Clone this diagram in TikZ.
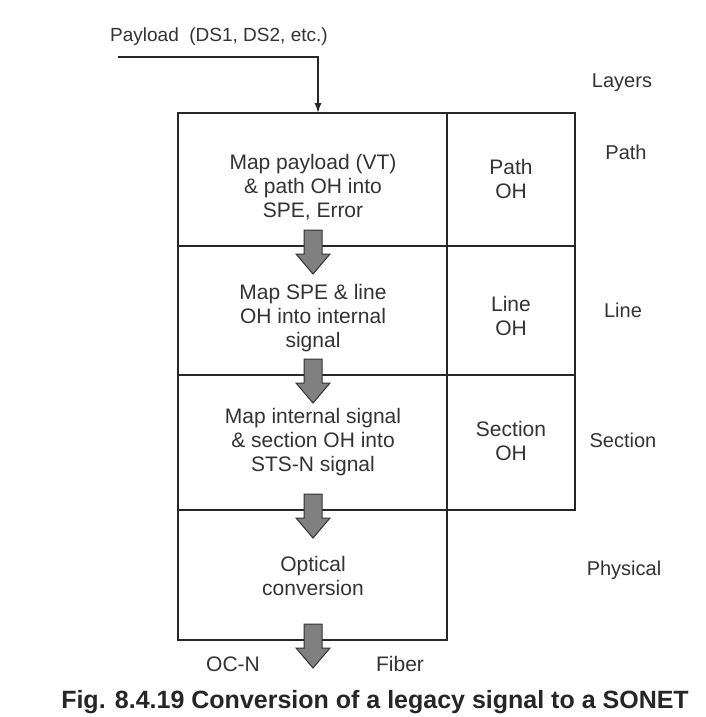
\documentclass[tikz,border=0pt]{standalone}
\usepackage{fontspec}
\setmainfont{Liberation Sans}
\usetikzlibrary{arrows.meta}
\tikzset{
  cell/.style={draw=black!85, line width=2pt, inner sep=0pt},
  celltext/.style={align=center, font=\fontsize{21}{24}\selectfont, text=black!80, inner sep=0pt},
  layer/.style={font=\fontsize{20}{24}\selectfont, text=black!80, inner sep=0pt},
  arrowfill/.style={fill=black!50, draw=black!80, line width=1pt, line join=miter},
  blockarrow/.pic={\path[arrowfill] (-9,-16) -- (9,-16) -- (9,8) -- (17,8) -- (0,28) -- (-17,8) -- (-9,8) -- cycle;},
}
\begin{document}
\begin{tikzpicture}[x=1pt,y=-1pt]
\useasboundingbox (0,0) rectangle (706,717);
\fill[white] (0,0) rectangle (706,717);
% cells
\node[cell, minimum width=269pt, minimum height=133pt] (c1) at (312.5,179.5) {};
\node[cell, minimum width=128pt, minimum height=133pt] (p1) at (511,179.5) {};
\node[cell, minimum width=269pt, minimum height=129pt] (c2) at (312.5,310.5) {};
\node[cell, minimum width=128pt, minimum height=129pt] (p2) at (511,310.5) {};
\node[cell, minimum width=269pt, minimum height=135pt] (c3) at (312.5,442.5) {};
\node[cell, minimum width=128pt, minimum height=135pt] (p3) at (511,442.5) {};
\node[cell, minimum width=269pt, minimum height=130pt] (c4) at (312.5,575) {};
% cell texts
\node[celltext] (t1) at (313,187) {Map payload (VT)\\ \& path OH into\\ SPE, Error};
\node[celltext] (o1) at (511,179) {Path\\ OH};
\node[celltext] (t2) at (313,318) {Map SPE \& line\\ OH into internal\\ signal};
\node[celltext] (o2) at (511,316) {Line\\ OH};
\node[celltext] (t3) at (313,442) {Map internal signal\\ \& section OH into\\ STS-N signal};
\node[celltext] (o3) at (511,441) {Section\\ OH};
\node[celltext] (t4) at (313,576) {Optical\\ conversion};
% block arrows
\pic at (313,246) {blockarrow};
\pic at (313,375) {blockarrow};
\pic at (313,510) {blockarrow};
\pic at (313,640) {blockarrow};
% payload input
\node[layer, anchor=west, font=\fontsize{19}{22}\selectfont] (pay) at (110,37) {Payload\ \ (DS1, DS2, etc.)};
\coordinate (pstart) at (118,57);
\coordinate (pend) at (318,113);
\draw[line width=1.4pt, black!85, -{Latex[length=10pt,width=7pt]}] (pstart) -| (pend);
% layer labels
\node[layer] (lay) at (622,83) {Layers};
\node[layer] (lpath) at (626,152) {Path};
\node[layer] (lline) at (623,310) {Line};
\node[layer] (lsec) at (623,440) {Section};
\node[layer] (lphy) at (624,570) {Physical};
% bottom labels
\node[layer, font=\fontsize{21}{24}\selectfont] (ocn) at (233,664) {OC-N};
\node[layer, font=\fontsize{21}{24}\selectfont] (fib) at (400,664) {Fiber};
% caption
\node[font=\bfseries\fontsize{25}{28}\selectfont, text=black!85, inner sep=0pt] (cap) at (375,702) {Fig. 8.4.19 Conversion of a legacy signal to a SONET};
\end{tikzpicture}
\end{document}
